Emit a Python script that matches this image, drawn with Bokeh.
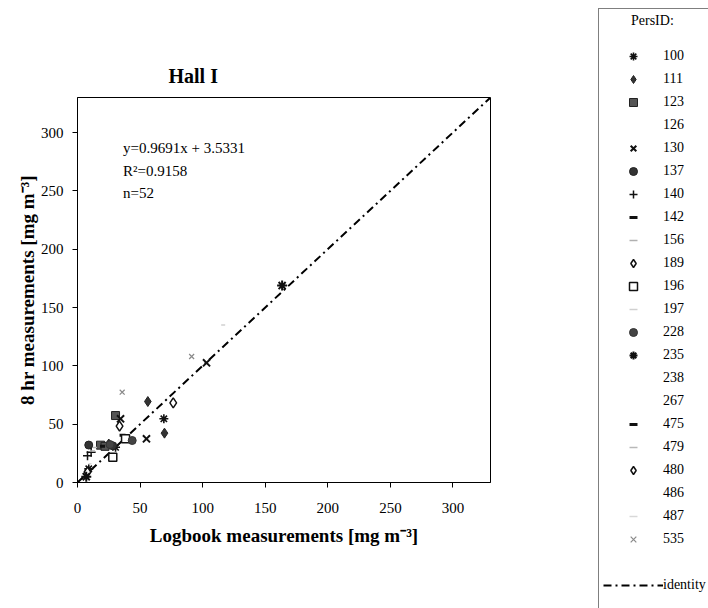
from bokeh.plotting import figure
from bokeh.models import Range1d, FixedTicker, Legend, LegendItem
from bokeh.embed import file_html
from bokeh.resources import INLINE

# ---------------- data ----------------
pers_ids = ["100", "111", "123", "126", "130", "137", "140", "142", "156", "189", "196",
            "197", "228", "235", "238", "267", "475", "479", "480", "486", "487", "535"]

x_100 = [69.0, 30.4, 9.0];   y_100 = [54.6, 30.2, 11.7]
x_111 = [56.2, 69.5, 25.0];  y_111 = [69.4, 42.3, 33.0]
x_123 = [30.4, 18.4, 22.0];  y_123 = [57.4, 32.0, 31.0]
x_126 = [];                  y_126 = []
x_130 = [55.1, 103.1, 34.4]; y_130 = [37.4, 102.6, 54.6]
x_137 = [9.0, 28.0];         y_137 = [32.1, 31.5]
x_140 = [10.9, 8.0];         y_140 = [26.0, 23.0]
x_142 = [36.0];              y_142 = [40.5]
x_156 = [12.0];              y_156 = [27.0]
x_189 = [33.6, 8.0];         y_189 = [48.3, 9.0]
x_196 = [28.2, 38.4];        y_196 = [21.7, 37.4]
x_197 = [116.4];             y_197 = [135.1]
x_228 = [43.7, 26.0];        y_228 = [36.0, 32.5]
x_235 = [163.5, 7.0];        y_235 = [168.8, 5.0]
x_238 = [];                  y_238 = []
x_267 = [];                  y_267 = []
x_475 = [20.0];              y_475 = [31.0]
x_479 = [14.0];              y_479 = [30.0]
x_480 = [76.5];              y_480 = [68.3]
x_486 = [];                  y_486 = []
x_487 = [10.0];              y_487 = [16.0]
x_535 = [35.7, 91.2];        y_535 = [77.4, 108.0]

identity_x = [0, 330]
identity_y = [0, 330]
ticks = [0, 50, 100, 150, 200, 250, 300]

series = {
    "100": (x_100, y_100), "111": (x_111, y_111), "123": (x_123, y_123),
    "126": (x_126, y_126), "130": (x_130, y_130), "137": (x_137, y_137),
    "140": (x_140, y_140), "142": (x_142, y_142), "156": (x_156, y_156),
    "189": (x_189, y_189), "196": (x_196, y_196), "197": (x_197, y_197),
    "228": (x_228, y_228), "235": (x_235, y_235), "238": (x_238, y_238),
    "267": (x_267, y_267), "475": (x_475, y_475), "479": (x_479, y_479),
    "480": (x_480, y_480), "486": (x_486, y_486), "487": (x_487, y_487),
    "535": (x_535, y_535),
}

# ---------------- styles ----------------
INVIS = dict(marker="circle", size=6, line_alpha=0, fill_alpha=0)
styles = {
    "100": dict(marker="asterisk", size=9, line_color="#111111", line_width=1.6),
    "111": dict(marker="diamond", size=10, line_color="#222222", fill_color="#333333"),
    "123": dict(marker="square", size=8, line_color="#222222", fill_color="#555555"),
    "126": INVIS,
    "130": dict(marker="x", size=10, line_color="#111111", line_width=2),
    "137": dict(marker="circle", size=8, line_color="#222222", fill_color="#333333"),
    "140": dict(marker="cross", size=9, line_color="#111111", line_width=1.5),
    "142": dict(marker="dash", size=6, line_color="#111111", line_width=3),
    "156": dict(marker="dash", size=5, line_color="#b0b0b0", line_width=1.5),
    "189": dict(marker="diamond", size=10, line_color="#111111", fill_color="white", line_width=1.5),
    "196": dict(marker="square", size=8, line_color="#111111", fill_color="white", line_width=1.5),
    "197": dict(marker="dash", size=4, line_color="#d0d0d0", line_width=1.5),
    "228": dict(marker="circle", size=8, line_color="#333333", fill_color="#444444"),
    "235": dict(marker="asterisk", size=10, line_color="#111111", line_width=2),
    "238": INVIS,
    "267": INVIS,
    "475": dict(marker="dash", size=5, line_color="#111111", line_width=3),
    "479": dict(marker="dash", size=4, line_color="#b8b8b8", line_width=1.5),
    "480": dict(marker="diamond", size=10, line_color="#111111", fill_color="white", line_width=1.5),
    "486": INVIS,
    "487": dict(marker="dash", size=3, line_color="#d8d8d8", line_width=1.5),
    "535": dict(marker="x", size=7, line_color="#8a8a8a", line_width=1.2),
}

SERIF = "Liberation Serif"
H = 606

p = figure(frame_width=413, frame_height=385,
           min_border_left=77, min_border_right=218, min_border_top=97, min_border_bottom=H - 97 - 385,
           x_range=Range1d(0, 330), y_range=Range1d(0, 330),
           output_backend="svg", toolbar_location=None)
p.background_fill_color = "white"
p.border_fill_color = "white"
p.outline_line_color = "black"
p.outline_line_width = 1
p.xgrid.visible = False
p.ygrid.visible = False

p.title.text = "Hall I"
p.title.align = "left"
p.title.offset = 91
p.title.standoff = 21
p.title.text_font = SERIF
p.title.text_font_size = "20px"
p.title.text_font_style = "bold"
p.title.text_color = "black"

for ax in (p.xaxis[0], p.yaxis[0]):
    ax.ticker = FixedTicker(ticks=ticks)
    ax.minor_tick_line_color = None
    ax.major_tick_in = 0
    ax.major_tick_out = 5
    ax.axis_line_color = "black"
    ax.major_tick_line_color = "black"
    ax.major_label_text_font = SERIF
    ax.major_label_text_font_size = "15px"
    ax.major_label_text_color = "black"
    ax.axis_label_text_font = SERIF
    ax.axis_label_text_font_style = "bold"
    ax.axis_label_text_font_size = "19px"
    ax.axis_label_text_color = "black"

p.xaxis.axis_label = "Logbook measurements [mg m\u207b\u00b3]"
p.yaxis.axis_label = "8 hr measurements [mg m\u207b\u00b3]"
p.xaxis.major_label_standoff = 15
p.xaxis.axis_label_standoff = 9
p.yaxis.major_label_standoff = 9
p.yaxis.axis_label_standoff = 0

ident = p.line(identity_x, identity_y, line_color="black", line_width=2, line_dash="8 4 2 4")

renderers = {}
for pid in pers_ids:
    xs, ys = series[pid]
    renderers[pid] = p.scatter(xs, ys, **styles[pid])

dummy = p.scatter([], [], marker="circle", size=1, line_alpha=0, fill_alpha=0)

def text_legend(text, vx, vy, size, style="normal"):
    p.add_layout(Legend(items=[LegendItem(label=text, renderers=[dummy])],
                        location=(vx, vy), padding=0, margin=0,
                        glyph_width=1, glyph_height=20, label_height=20, label_standoff=0,
                        label_text_font=SERIF, label_text_font_size=size,
                        label_text_font_style=style, label_text_color="black",
                        border_line_alpha=0, background_fill_alpha=0))

text_legend("y=0.9691x + 3.5331", 45, 324, "15px")
text_legend("R\u00b2=0.9158", 45, 301, "15px")
text_legend("n=52", 45, 279, "15px")

# legend box: "PersID:" heading, the PersID entries, then the identity line
items = [LegendItem(label=pid, renderers=[renderers[pid]]) for pid in pers_ids]
items.append(LegendItem(label=" ", renderers=[dummy]))
items.append(LegendItem(label="identity", renderers=[ident]))
items += [LegendItem(label=" " * k, renderers=[dummy]) for k in range(2, 4)]
legend = Legend(items=items, location=(108, -164), padding=4, margin=0, spacing=3,
                glyph_width=60, glyph_height=20, label_height=20, label_standoff=0,
                label_width=46,
                title="\u00a0" * 8 + "PersID:", title_location="above", title_standoff=17,
                title_text_font=SERIF, title_text_font_size="14px",
                title_text_font_style="normal", title_text_color="black",
                label_text_font=SERIF, label_text_font_size="14px", label_text_color="black",
                border_line_color="black", border_line_width=1,
                background_fill_alpha=0)
p.add_layout(legend, "right")

open("out.html", "w").write(file_html(p, INLINE))
